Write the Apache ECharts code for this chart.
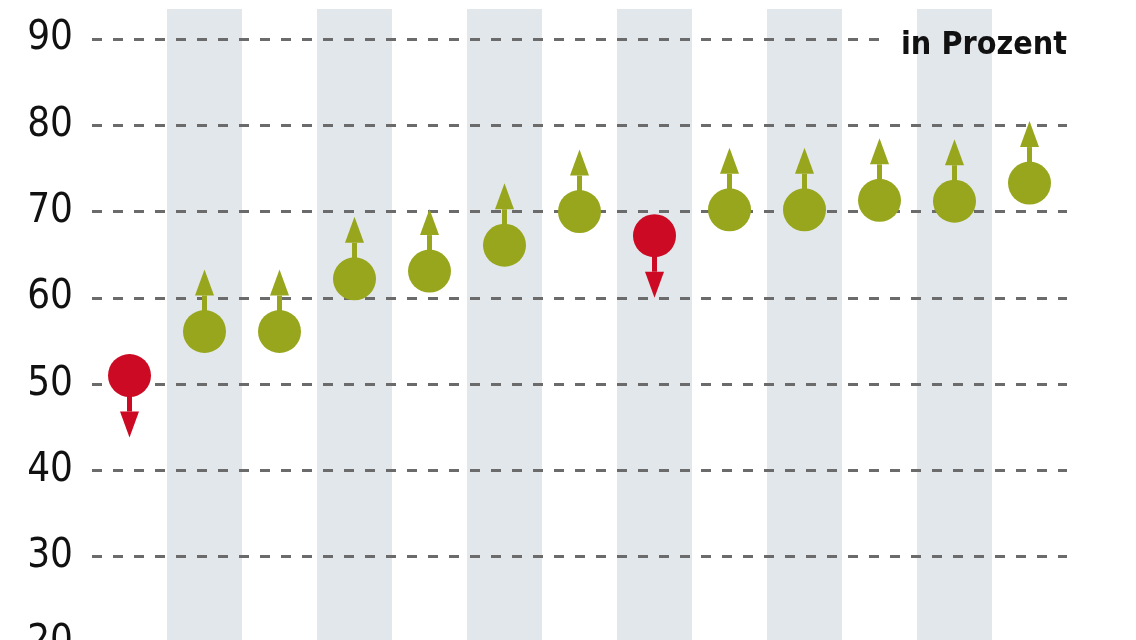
<!DOCTYPE html>
<html>
<head>
<meta charset="utf-8">
<script src="https://cdn.jsdelivr.net/npm/echarts@6/dist/echarts.min.js"></script>
<style>
  html, body { margin: 0; padding: 0; background: #ffffff; }
  #chart { width: 1136px; height: 640px; }
</style>
</head>
<body>
<div id="chart"></div>
<script>
// ---- data ----
const categories = ['1', '2', '3', '4', '5', '6', '7', '8', '9', '10', '11', '12', '13'];
const values = [51.0, 56.1, 56.1, 62.2, 63.1, 66.1, 70.0, 67.2, 70.2, 70.2, 71.3, 71.2, 73.3];
const trend = ['down', 'up', 'up', 'up', 'up', 'up', 'up', 'down', 'up', 'up', 'up', 'up', 'up'];
const yTicks = [20, 30, 40, 50, 60, 70, 80, 90];
const unitLabel = 'in Prozent';

// ---- styles ----
const GREEN = '#97a61c';
const RED = '#cc0a23';
const BAND = '#e2e7eb';
const DASH = '#6b6b6b';
const FONT = "'Liberation Sans Narrow', 'DejaVu Sans Condensed', 'Noto Sans', sans-serif";

const seriesData = values.map((v, i) => [i, v, trend[i] === 'up' ? 1 : -1]);

const dashLine = { show: true, lineStyle: { color: DASH, width: 3, type: [10, 11] } };

const chart = echarts.init(document.getElementById('chart'), null, { renderer: 'canvas' });
chart.setOption({
  animation: false,
  backgroundColor: '#ffffff',
  title: {
    text: unitLabel,
    right: 64,
    top: 25,
    textStyle: { fontFamily: FONT, fontWeight: 'bold', fontSize: 32, color: '#111111' }
  },
  grid: [
    { left: 92, width: 975, top: 9, height: 640, outerBoundsMode: 'none', containLabel: false },
    { left: 92, width: 975, top: 39, height: 604, outerBoundsMode: 'none', containLabel: false },
    { left: 92, width: 790, top: 39, height: 604 / 7, outerBoundsMode: 'none', containLabel: false }
  ],
  xAxis: [
    {
      gridIndex: 0, type: 'category', data: categories, boundaryGap: true, z: -5,
      axisLine: { show: false }, axisTick: { show: false }, axisLabel: { show: false },
      splitLine: { show: false },
      splitArea: { show: true, areaStyle: { color: ['rgba(0,0,0,0)', BAND] } }
    },
    {
      gridIndex: 1, type: 'category', data: categories, boundaryGap: true,
      axisLine: { show: false }, axisTick: { show: false }, axisLabel: { show: false },
      splitLine: { show: false }
    },
    {
      gridIndex: 2, type: 'value', min: 0, max: 1, show: false
    }
  ],
  yAxis: [
    { gridIndex: 0, type: 'value', min: 0, max: 1, show: false },
    {
      gridIndex: 1, type: 'value', z: 3,
      min: yTicks[0], max: yTicks[yTicks.length - 1], interval: 10,
      axisLine: { show: false }, axisTick: { show: false },
      axisLabel: { margin: 19, fontFamily: FONT, fontSize: 40, color: '#111111' },
      splitLine: Object.assign({}, dashLine, { showMaxLine: false })
    },
    {
      gridIndex: 2, type: 'value', min: 80, max: 90, interval: 10, z: 3,
      axisLine: { show: false }, axisTick: { show: false }, axisLabel: { show: false },
      splitLine: Object.assign({}, dashLine, { showMinLine: false })
    }
  ],
  series: [
    {
      type: 'custom',
      xAxisIndex: 1,
      yAxisIndex: 1,
      z: 5,
      data: seriesData,
      encode: { x: 0, y: 1 },
      renderItem: function (params, api) {
        const p = api.coord([api.value(0), api.value(1)]);
        const dir = api.value(2);
        const color = dir > 0 ? GREEN : RED;
        const r = 21.5;
        const tip = p[1] - dir * 62;
        const headBase = p[1] - dir * 36;
        return {
          type: 'group',
          children: [
            {
              type: 'rect',
              shape: { x: p[0] - 2.5, y: Math.min(p[1], headBase), width: 5, height: Math.abs(headBase - p[1]) },
              style: { fill: color }
            },
            {
              type: 'polygon',
              shape: { points: [[p[0] - 9.5, headBase], [p[0] + 9.5, headBase], [p[0], tip]] },
              style: { fill: color }
            },
            {
              type: 'circle',
              shape: { cx: p[0], cy: p[1], r: r },
              style: { fill: color }
            }
          ]
        };
      }
    }
  ]
});
</script>
</body>
</html>
